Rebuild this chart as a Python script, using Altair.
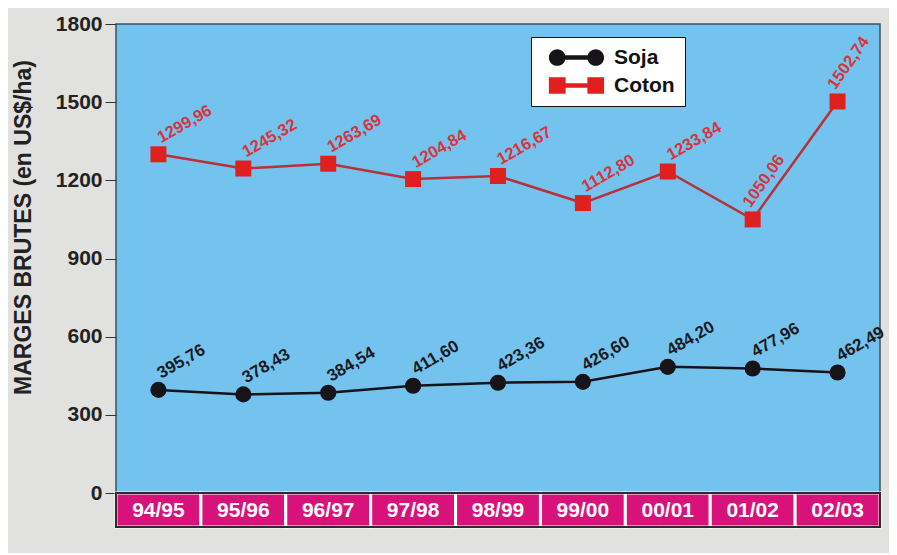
import altair as alt
import pandas as pd

years = ["94/95", "95/96", "96/97", "97/98", "98/99", "99/00", "00/01", "01/02", "02/03"]
soja = [395.76, 378.43, 384.54, 411.60, 423.36, 426.60, 484.20, 477.96, 462.49]
coton = [1299.96, 1245.32, 1263.69, 1204.84, 1216.67, 1112.80, 1233.84, 1050.06, 1502.74]
series_names = ["Soja", "Coton"]
y_ticks = [0, 300, 600, 900, 1200, 1500, 1800]
y_title = "MARGES BRUTES (en US$/ha)"

df = pd.DataFrame({
    "year": years * 2,
    "value": soja + coton,
    "series": ["Soja"] * len(years) + ["Coton"] * len(years),
})
df["label"] = [f"{v:.2f}".replace(".", ",") for v in df["value"]]
cat_df = pd.DataFrame({"year": years})

W, H = 764, 469
FONT = "Liberation Sans"
BLACK = "#161418"
RED = "#e0201e"
RED_LINE = "#b83038"
RED_TEXT = "#d8343c"
PINK = "#d8127a"

xscale = alt.Scale(type="band", domain=years, paddingInner=0, paddingOuter=0)
x_pt = alt.X("year:N", sort=years, scale=xscale, axis=None, bandPosition=0.5)
x_band = alt.X("year:N", sort=years, scale=xscale, axis=None)
y_enc = alt.Y(
    "value:Q",
    scale=alt.Scale(domain=[0, 1800], nice=False, zero=True),
    axis=alt.Axis(
        values=y_ticks, format="d", tickSize=11, tickColor="#333333", tickWidth=1,
        domain=False, grid=False,
        labelFont=FONT, labelFontWeight="bold", labelFontSize=21,
        labelColor="#222222", labelPadding=3,
        titleFont=FONT, titleFontWeight="bold", titleFontSize=23,
        titleColor="#222222", titlePadding=20, titleY=203,
    ),
    title=y_title,
)

base = alt.Chart(df)

# category band under the plot
band = alt.Chart(cat_df).mark_rect(fill=PINK, stroke="white", strokeWidth=3).encode(
    x=x_band, y=alt.value(H), y2=alt.value(H + 34)
)
band_border = alt.Chart(alt.Data(values=[{"a": 1}])).mark_rect(
    fillOpacity=0, stroke="#3a2430", strokeWidth=2
).encode(x=alt.value(0), x2=alt.value(W), y=alt.value(H), y2=alt.value(H + 34))
band_text = alt.Chart(cat_df).mark_text(
    font=FONT, fontWeight="bold", fontSize=21, color="white", baseline="middle", align="center"
).encode(x=x_pt, y=alt.value(H + 18), text="year:N")

soja_line = base.transform_filter("datum.series == 'Soja'").mark_line(
    color=BLACK, strokeWidth=2.5
).encode(x=x_pt, y=y_enc)
coton_line = base.transform_filter("datum.series == 'Coton'").mark_line(
    color=RED_LINE, strokeWidth=2.5
).encode(x=x_pt, y=y_enc)

soja_pts = base.transform_filter("datum.series == 'Soja'").mark_circle(
    color=BLACK, size=260, opacity=1
).encode(x=x_pt, y=y_enc)
coton_pts = base.transform_filter("datum.series == 'Coton'").mark_square(
    color=RED, size=256, opacity=1
).encode(x=x_pt, y=y_enc)

soja_lbl = base.transform_filter("datum.series == 'Soja'").mark_text(
    font=FONT, fontWeight="bold", fontSize=17, color="#1a1a22",
    align="left", baseline="alphabetic", angle=330, dx=8, dy=-8
).encode(x=x_pt, y=y_enc, text="label:N")
coton_lbl = base.transform_filter("datum.series == 'Coton'").mark_text(
    font=FONT, fontWeight="bold", fontSize=16.5, color=RED_TEXT,
    align="left", baseline="alphabetic", dx=8, dy=-8
).encode(
    x=x_pt, y=y_enc, text="label:N",
    angle=alt.condition("datum.year == '01/02' || datum.year == '02/03'",
                        alt.value(305), alt.value(330)),
)

soja_sym = ("M-3.3,0A1,1,0,1,1,-1.3,0A1,1,0,1,1,-3.3,0Z "
            "M1.3,0A1,1,0,1,1,3.3,0A1,1,0,1,1,1.3,0Z "
            "M-1.4,-0.26L1.4,-0.26L1.4,0.26L-1.4,0.26Z")
coton_sym = ("M-3.3,-1L-1.3,-1L-1.3,1L-3.3,1Z "
             "M1.3,-1L3.3,-1L3.3,1L1.3,1Z "
             "M-1.4,-0.26L1.4,-0.26L1.4,0.26L-1.4,0.26Z")

leg = alt.Legend(
    title=None, orient="none", legendX=415, legendY=13, direction="vertical",
    fillColor="white", strokeColor="#111111", padding=10,
    symbolSize=280, symbolOffset=25, labelOffset=27, symbolStrokeWidth=0,
    labelFont=FONT, labelFontWeight="bold", labelFontSize=21, labelColor="#111111",
    rowPadding=6,
)
legend_layer = base.transform_filter("false").mark_point(
    filled=True, size=280, opacity=1, strokeWidth=0
).encode(
    x=x_pt, y=y_enc,
    color=alt.Color("series:N", scale=alt.Scale(domain=series_names, range=[BLACK, RED]), legend=leg),
    shape=alt.Shape("series:N", scale=alt.Scale(domain=series_names, range=[soja_sym, coton_sym]), legend=leg),
)

chart = alt.layer(
    band, band_border, band_text,
    soja_line, coton_line, soja_pts, coton_pts, soja_lbl, coton_lbl,
    legend_layer,
).properties(
    width=W, height=H,
    autosize=alt.AutoSizeParams(type="none"),
    padding={"left": 108, "top": 16, "right": 9, "bottom": 60},
    background="#e1e1df",
).configure(
    font=FONT,
    view=alt.ViewConfig(fill="#74c3ee", stroke="#40505e", strokeWidth=1.5),
)

chart.save("out.html", embed_options={"renderer": "svg", "actions": False})
